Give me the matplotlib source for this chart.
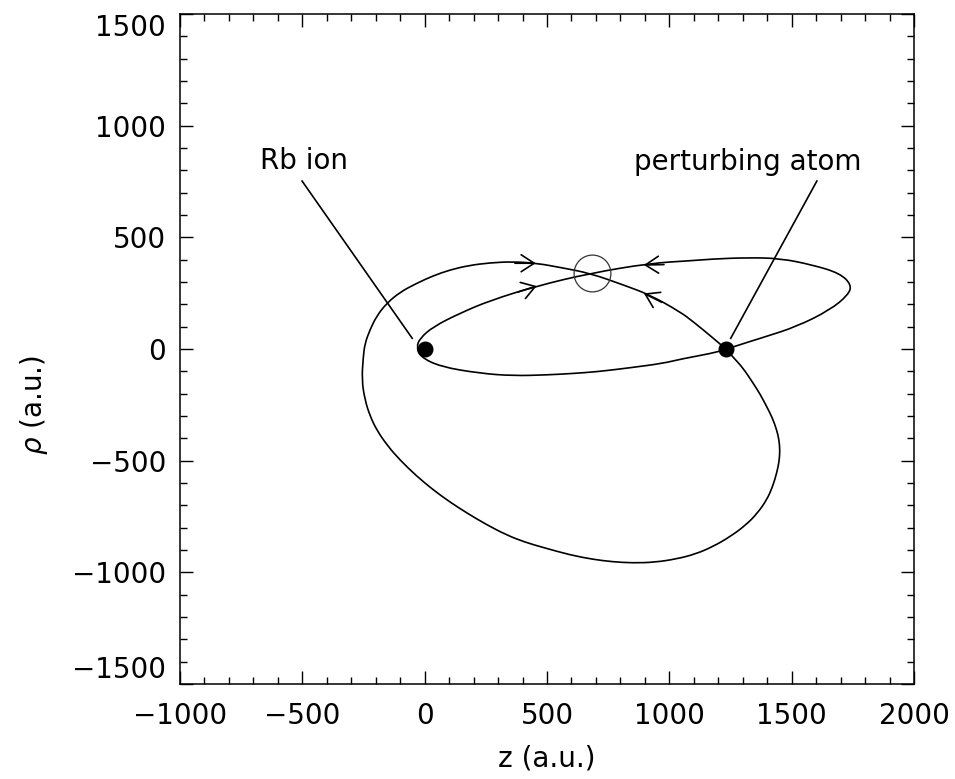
"""
Traiettorie classiche ione Rb - atomo perturbatore
"""
import matplotlib
matplotlib.use("Agg")
import matplotlib.pyplot as plt
from matplotlib.path import Path
from matplotlib.patches import PathPatch
from matplotlib.ticker import MultipleLocator

# punti (z, rho in a.u.), curve chiuse
small_z = [-33, -19, 35, 144, 267, 458, 676, 921, 1084, 1178, 1316, 1452, 1587, 1697,
           1745, 1731, 1657, 1520, 1384, 1261, 1207, 1043, 975, 840, 703, 600, 499, 362,
           226, 63, -19]
small_rho = [10, 48, 100, 160, 217, 282, 339, 384, 395, 403, 409, 406, 376, 339,
             287, 242, 175, 100, 52, 10, -12, -46, -64, -84, -102, -110, -116, -120,
             -109, -79, -34]

big_z = [1231, 1180, 1098, 1043, 921, 812, 676, 560, 458, 360, 267, 180, 103, 35,
         -33, -100, -155, -196, -224, -244, -251, -257, -244, -224, -196, -152, -101,
         -35, 35, 103, 172, 252, 335, 410, 485, 594, 688, 770, 851, 940, 1030, 1107,
         1178, 1252, 1316, 1360, 1398, 1422, 1439, 1449, 1452, 1448, 1439, 1421, 1398,
         1372, 1342, 1301, 1266]
big_rho = [0, 48, 122, 167, 242, 287, 339, 364, 384, 391, 386, 374, 354, 328,
           294, 255, 205, 148, 85, 25, -34, -139, -228, -298, -363, -433, -497,
           -567, -631, -685, -734, -786, -833, -865, -889, -922, -942, -953, -958, -955,
           -940, -918, -885, -838, -785, -735, -676, -617, -555, -503, -452, -405, -363,
           -308, -258, -204, -152, -85, -43]

atoms_z = [0, 1231]
atoms_rho = [0, 0]

# frecce: (coda, punta)
arrows = [
    ((369, 384), (454, 384)),
    ((381, 255), (458, 282)),
    ((978, 378), (896, 376)),
    ((969, 209), (896, 249)),
]

crossing = (683, 339)

labels = ["Rb ion", "perturbing atom"]
label_pos = [(-494, 842), (1321, 837)]
leader_lines = [((-501, 752), (-51, 48)), ((1603, 752), (1251, 48))]

FS = 20


def closed_curve(zs, rhos):
    """
    Curva chiusa liscia: bezier quadratiche con i punti letti come controlli
    """
    pts = list(zip(zs, rhos))
    n = len(pts)
    mid = lambda a, b: ((a[0] + b[0]) / 2, (a[1] + b[1]) / 2)
    verts = [mid(pts[-1], pts[0])]
    codes = [Path.MOVETO]
    for i in range(n):
        verts += [pts[i], mid(pts[i], pts[(i + 1) % n])]
        codes += [Path.CURVE3, Path.CURVE3]
    return Path(verts, codes)


fig = plt.figure(figsize=(9.55, 7.79), dpi=100)
ax = fig.add_axes([180 / 955, 1 - 684 / 779, 734 / 955, 670 / 779])

for zs, rhos in [(small_z, small_rho), (big_z, big_rho)]:
    ax.add_patch(PathPatch(closed_curve(zs, rhos), fill=False, ec="black", lw=1.2))

ax.plot(atoms_z, atoms_rho, "o", color="black", ms=10.5)
ax.plot(*crossing, "o", mfc="none", mec="#333333", ms=26.5, mew=0.9)

for tail, tip in arrows:
    ax.annotate("", xy=tip, xytext=tail,
                arrowprops=dict(arrowstyle="->,head_length=0.94,head_width=0.61",
                                mutation_scale=10, color="black", lw=1.2,
                                shrinkA=0, shrinkB=0))

for text, pos, (start, end) in zip(labels, label_pos, leader_lines):
    ax.text(pos[0], pos[1], text, fontsize=FS, ha="center", va="center")
    ax.plot([start[0], end[0]], [start[1], end[1]], color="black", lw=1.2)

ax.set_xlim(-1000, 2000)
ax.set_ylim(-1500, 1500)
ax.set_xticks([-1000, -500, 0, 500, 1000, 1500, 2000])
ax.set_yticks([-1500, -1000, -500, 0, 500, 1000, 1500])
ax.xaxis.set_minor_locator(MultipleLocator(100))
ax.yaxis.set_minor_locator(MultipleLocator(100))
ax.tick_params(which="both", direction="in", top=True, right=True,
               labelsize=FS, width=1.0)
ax.tick_params(axis="x", which="major", length=9.4, pad=13)
ax.tick_params(axis="y", which="major", length=9.4, pad=10)
ax.tick_params(which="minor", length=4.8)
for spine in ax.spines.values():
    spine.set_linewidth(1.1)

yticks = ax.yaxis.get_major_ticks()
yticks[0].label1.set_va("bottom")
yticks[-1].label1.set_va("top")

ax.set_xlabel("z (a.u.)", fontsize=FS)
ax.set_ylabel(r"$\rho$ (a.u.)", fontsize=FS)
ax.xaxis.set_label_coords(0.5, -0.091)
ax.yaxis.set_label_coords(-0.177, 0.416)

fig.savefig("out.png", dpi=100)
